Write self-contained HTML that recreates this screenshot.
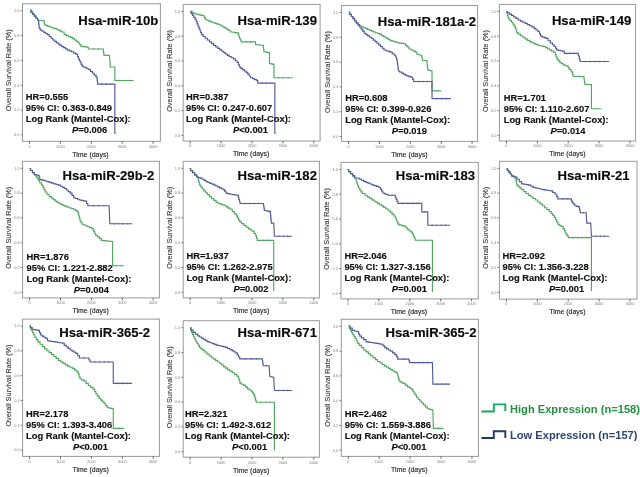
<!DOCTYPE html>
<html><head><meta charset="utf-8"><style>
html,body{margin:0;padding:0;background:#fff;width:640px;height:477px;overflow:hidden}
svg{display:block;filter:blur(0.35px)}
text{font-family:"Liberation Sans",sans-serif}
.tk{font-size:3.9px;fill:#808080}
.yt{font-size:7.3px;fill:#3a3a3a;stroke:#3a3a3a;stroke-width:0.12px}
.xt{font-size:6.95px;fill:#2a2a2a;stroke:#2a2a2a;stroke-width:0.15px}
.ti{font-size:13.1px;font-weight:bold;fill:#0a0a0a;stroke:#0a0a0a;stroke-width:0.15px}
.st{font-size:9.35px;font-weight:bold;fill:#111;stroke:#111;stroke-width:0.15px}
.lg{font-size:11.12px;font-weight:bold}
</style></head><body>
<svg width="640" height="477" viewBox="0 0 640 477">
<rect width="640" height="477" fill="#fff"/>
<rect x="22.5" y="3.8" width="137.9" height="137.5" fill="none" stroke="#999999" stroke-width="1.0"/>
<line x1="20.5" y1="10.8" x2="22.5" y2="10.8" stroke="#666" stroke-width="0.8"/>
<text x="19.5" y="12.1" class="tk" text-anchor="end">1.0</text>
<line x1="20.5" y1="35.6" x2="22.5" y2="35.6" stroke="#666" stroke-width="0.8"/>
<text x="19.5" y="36.9" class="tk" text-anchor="end">0.8</text>
<line x1="20.5" y1="60.4" x2="22.5" y2="60.4" stroke="#666" stroke-width="0.8"/>
<text x="19.5" y="61.7" class="tk" text-anchor="end">0.6</text>
<line x1="20.5" y1="85.2" x2="22.5" y2="85.2" stroke="#666" stroke-width="0.8"/>
<text x="19.5" y="86.5" class="tk" text-anchor="end">0.4</text>
<line x1="20.5" y1="110.0" x2="22.5" y2="110.0" stroke="#666" stroke-width="0.8"/>
<text x="19.5" y="111.3" class="tk" text-anchor="end">0.2</text>
<line x1="20.5" y1="134.8" x2="22.5" y2="134.8" stroke="#666" stroke-width="0.8"/>
<text x="19.5" y="136.1" class="tk" text-anchor="end">0.0</text>
<line x1="29.5" y1="141.3" x2="29.5" y2="143.7" stroke="#555" stroke-width="0.9"/>
<text x="29.5" y="147.6" class="tk" text-anchor="middle">0</text>
<line x1="60.4" y1="141.3" x2="60.4" y2="143.7" stroke="#555" stroke-width="0.9"/>
<text x="60.4" y="147.6" class="tk" text-anchor="middle">1000</text>
<line x1="91.3" y1="141.3" x2="91.3" y2="143.7" stroke="#555" stroke-width="0.9"/>
<text x="91.3" y="147.6" class="tk" text-anchor="middle">2000</text>
<line x1="122.2" y1="141.3" x2="122.2" y2="143.7" stroke="#555" stroke-width="0.9"/>
<text x="122.2" y="147.6" class="tk" text-anchor="middle">3000</text>
<line x1="153.1" y1="141.3" x2="153.1" y2="143.7" stroke="#555" stroke-width="0.9"/>
<text x="153.1" y="147.6" class="tk" text-anchor="middle">4000</text>
<text x="8.7" y="70.3" class="yt" text-anchor="middle" transform="rotate(-90 8.7 70.3)" dy="2.3">Overall Survival Rate (%)</text>
<text x="90.5" y="156.6" class="xt" text-anchor="middle">Time (days)</text>
<polyline points="30.03,10.03 30.88,10.03 30.88,12.08 32.57,12.08 32.57,14.13 34.25,14.13 34.25,16.18 35.94,16.18 35.94,18.23 37.63,18.23 37.63,20.27 38.48,20.27 43.87,20.81 44.09,20.81 44.09,22.79 44.54,22.79 44.54,24.77 44.77,24.77 45.66,24.77 45.66,25.44 47.46,25.44 47.46,26.11 49.26,26.11 49.26,26.79 51.06,26.79 51.06,27.46 51.95,27.46 52.85,27.46 52.85,28.06 54.65,28.06 54.65,28.66 56.45,28.66 56.45,29.26 57.35,29.26 58.24,29.26 58.24,30.16 60.04,30.16 60.04,31.06 61.84,31.06 61.84,31.95 62.74,31.95 64.08,31.95 64.08,34.65 65.43,34.65 66.48,34.65 66.48,35.55 68.58,35.55 68.58,36.45 70.67,36.45 70.67,37.35 71.72,37.35 72.62,37.35 72.62,38.69 74.42,38.69 74.42,40.04 75.31,40.04 76.21,40.04 76.21,41.39 78.01,41.39 78.01,42.74 78.91,42.74 79.58,42.74 79.58,44.53 80.93,44.53 80.93,46.33 81.60,46.33 82.65,46.33 82.65,46.63 84.75,46.63 84.75,46.93 86.84,46.93 86.84,47.23 87.89,47.23 88.34,47.23 88.34,49.03 88.79,49.03 103.17,49.03 103.32,49.03 103.32,51.12 103.62,51.12 103.62,53.22 103.92,53.22 103.92,55.31 104.07,55.31 109.46,55.31 109.53,55.31 109.53,57.26 109.68,57.26 109.68,59.21 109.83,59.21 109.83,61.15 109.98,61.15 109.98,63.10 110.13,63.10 110.13,65.05 110.28,65.05 110.28,66.99 110.35,66.99 114.85,66.99 114.85,80.47 133.72,80.47" fill="none" stroke="#53a862" stroke-width="1.15" stroke-linejoin="miter"/>
<path d="M93.6 48.1v1.8M98.4 48.1v1.8M119.6 79.6v1.8M124.3 79.6v1.8M129.0 79.6v1.8" stroke="#53a862" stroke-width="0.8" opacity="0.9"/>
<polyline points="30.03,10.03 30.88,10.03 30.88,12.08 32.57,12.08 32.57,14.13 34.25,14.13 34.25,16.18 35.94,16.18 35.94,18.23 37.63,18.23 37.63,20.27 38.48,20.27 38.59,20.27 38.59,22.30 38.81,22.30 38.81,24.32 39.04,24.32 39.04,26.34 39.26,26.34 39.26,28.36 39.38,28.36 40.27,28.36 40.27,30.16 41.17,30.16 42.07,30.16 42.07,31.28 43.87,31.28 43.87,32.40 45.66,32.40 45.66,33.53 47.46,33.53 47.46,34.65 48.36,34.65 49.26,34.65 49.26,36.45 51.06,36.45 51.06,38.24 52.85,38.24 52.85,40.04 53.75,40.04 54.65,40.04 54.65,41.39 56.45,41.39 56.45,42.74 58.24,42.74 58.24,44.08 60.04,44.08 60.04,45.43 60.94,45.43 61.84,45.43 61.84,46.55 63.63,46.55 63.63,47.68 65.43,47.68 65.43,48.80 67.23,48.80 67.23,49.92 68.13,49.92 69.25,49.92 69.25,50.82 71.50,50.82 71.50,51.72 72.62,51.72 73.74,51.72 73.74,53.07 75.99,53.07 75.99,54.42 77.11,54.42 77.56,54.42 77.56,56.66 78.46,56.66 78.46,58.91 78.91,58.91 79.36,58.91 79.36,60.71 80.26,60.71 80.26,62.50 81.15,62.50 81.15,64.30 82.05,64.30 82.05,66.10 82.50,66.10 83.40,66.10 83.40,66.99 85.20,66.99 85.20,67.89 86.99,67.89 86.99,68.79 88.79,68.79 88.79,69.69 89.69,69.69 90.59,69.69 90.59,71.49 92.39,71.49 92.39,73.28 93.28,73.28 94.18,73.28 94.18,75.08 95.98,75.08 95.98,76.88 96.88,76.88 96.99,76.88 96.99,78.67 97.21,78.67 97.21,80.47 97.44,80.47 97.44,82.27 97.66,82.27 97.66,84.07 97.78,84.07 114.85,84.07 114.85,134.02" fill="none" stroke="#525d98" stroke-width="1.15" stroke-linejoin="miter"/>
<path d="M102.0 83.2v1.8M106.3 83.2v1.8M110.6 83.2v1.8" stroke="#525d98" stroke-width="0.8" opacity="0.9"/>
<text x="78.3" y="24.7" class="ti">Hsa-miR-10b</text>
<text transform="translate(25.8 99.8) scale(1 1.0)" class="st">HR=0.555</text>
<text transform="translate(25.8 110.8) scale(1 1.0)" class="st">95% CI: 0.363-0.849</text>
<text transform="translate(25.8 121.9) scale(1 1.0)" class="st">Log Rank (Mantel-Cox):</text>
<text transform="translate(72.0 132.9) scale(1 1.0)" class="st"><tspan font-style="italic">P</tspan>=0.006</text>
<rect x="183.2" y="4.4" width="136.9" height="136.6" fill="none" stroke="#999999" stroke-width="1.0"/>
<line x1="181.2" y1="11.4" x2="183.2" y2="11.4" stroke="#666" stroke-width="0.8"/>
<text x="180.2" y="12.7" class="tk" text-anchor="end">1.0</text>
<line x1="181.2" y1="36.2" x2="183.2" y2="36.2" stroke="#666" stroke-width="0.8"/>
<text x="180.2" y="37.5" class="tk" text-anchor="end">0.8</text>
<line x1="181.2" y1="61.0" x2="183.2" y2="61.0" stroke="#666" stroke-width="0.8"/>
<text x="180.2" y="62.3" class="tk" text-anchor="end">0.6</text>
<line x1="181.2" y1="85.8" x2="183.2" y2="85.8" stroke="#666" stroke-width="0.8"/>
<text x="180.2" y="87.1" class="tk" text-anchor="end">0.4</text>
<line x1="181.2" y1="110.6" x2="183.2" y2="110.6" stroke="#666" stroke-width="0.8"/>
<text x="180.2" y="111.9" class="tk" text-anchor="end">0.2</text>
<line x1="181.2" y1="135.4" x2="183.2" y2="135.4" stroke="#666" stroke-width="0.8"/>
<text x="180.2" y="136.7" class="tk" text-anchor="end">0.0</text>
<line x1="190.2" y1="141.0" x2="190.2" y2="143.4" stroke="#555" stroke-width="0.9"/>
<text x="190.2" y="147.3" class="tk" text-anchor="middle">0</text>
<line x1="221.1" y1="141.0" x2="221.1" y2="143.4" stroke="#555" stroke-width="0.9"/>
<text x="221.1" y="147.3" class="tk" text-anchor="middle">1000</text>
<line x1="252.0" y1="141.0" x2="252.0" y2="143.4" stroke="#555" stroke-width="0.9"/>
<text x="252.0" y="147.3" class="tk" text-anchor="middle">2000</text>
<line x1="282.9" y1="141.0" x2="282.9" y2="143.4" stroke="#555" stroke-width="0.9"/>
<text x="282.9" y="147.3" class="tk" text-anchor="middle">3000</text>
<line x1="313.8" y1="141.0" x2="313.8" y2="143.4" stroke="#555" stroke-width="0.9"/>
<text x="313.8" y="147.3" class="tk" text-anchor="middle">4000</text>
<text x="169.4" y="70.9" class="yt" text-anchor="middle" transform="rotate(-90 169.4 70.9)" dy="2.3">Overall Survival Rate (%)</text>
<text x="251.2" y="156.3" class="xt" text-anchor="middle">Time (days)</text>
<polyline points="190.39,11.29 191.29,11.29 191.29,12.19 193.09,12.19 193.09,13.09 194.88,13.09 194.88,13.98 195.78,13.98 196.79,13.98 196.79,14.43 198.81,14.43 198.81,14.88 200.84,14.88 200.84,15.33 202.86,15.33 202.86,15.78 203.87,15.78 204.32,15.78 204.32,17.58 205.22,17.58 205.22,19.38 205.66,19.38 206.71,19.38 206.71,20.27 208.81,20.27 208.81,21.17 210.91,21.17 210.91,22.07 211.95,22.07 212.96,22.07 212.96,22.74 214.99,22.74 214.99,23.42 217.01,23.42 217.01,24.09 219.03,24.09 219.03,24.77 220.04,24.77 221.09,24.77 221.09,25.96 223.19,25.96 223.19,27.16 225.28,27.16 225.28,28.36 226.33,28.36 227.23,28.36 227.23,29.56 229.03,29.56 229.03,30.76 230.82,30.76 230.82,31.95 231.72,31.95 232.77,31.95 232.77,32.25 234.87,32.25 234.87,32.55 236.96,32.55 236.96,32.85 238.01,32.85 238.31,32.85 238.31,34.65 238.91,34.65 238.91,36.45 239.51,36.45 239.51,38.24 239.81,38.24 240.26,38.24 240.26,40.04 241.15,40.04 241.15,41.84 241.60,41.84 255.08,41.84 255.53,41.84 255.53,44.53 255.98,44.53 256.88,44.53 256.88,44.76 258.67,44.76 258.67,44.98 260.47,44.98 260.47,45.21 262.27,45.21 262.27,45.43 263.17,45.43 263.32,45.43 263.32,47.53 263.62,47.53 263.62,49.62 263.92,49.62 263.92,51.72 264.07,51.72 264.96,51.72 264.96,52.02 266.76,52.02 266.76,52.32 268.56,52.32 268.56,52.62 269.46,52.62 269.46,63.40 270.58,63.40 270.58,63.85 272.83,63.85 272.83,64.30 273.95,64.30 273.95,77.78 292.82,77.78" fill="none" stroke="#53a862" stroke-width="1.15" stroke-linejoin="miter"/>
<path d="M246.1 40.9v1.8M250.6 40.9v1.8M278.7 76.9v1.8M283.4 76.9v1.8M288.1 76.9v1.8" stroke="#53a862" stroke-width="0.8" opacity="0.9"/>
<polyline points="190.39,11.29 191.06,11.29 191.06,13.31 192.41,13.31 192.41,15.33 193.76,15.33 193.76,17.35 195.11,17.35 195.11,19.38 195.78,19.38 196.23,19.38 196.23,21.62 197.13,21.62 197.13,23.87 198.03,23.87 198.03,26.11 198.93,26.11 198.93,28.36 199.38,28.36 199.82,28.36 199.82,30.46 200.72,30.46 200.72,32.55 201.62,32.55 201.62,34.65 202.07,34.65 203.12,34.65 203.12,36.45 205.22,36.45 205.22,38.24 207.31,38.24 207.31,40.04 208.36,40.04 209.41,40.04 209.41,41.84 211.50,41.84 211.50,43.63 213.60,43.63 213.60,45.43 214.65,45.43 215.70,45.43 215.70,46.93 217.79,46.93 217.79,48.43 219.89,48.43 219.89,49.92 220.94,49.92 221.84,49.92 221.84,51.27 223.63,51.27 223.63,52.62 225.43,52.62 225.43,53.97 227.23,53.97 227.23,55.31 228.13,55.31 229.17,55.31 229.17,56.51 231.27,56.51 231.27,57.71 233.37,57.71 233.37,58.91 234.42,58.91 235.31,58.91 235.31,60.71 237.11,60.71 237.11,62.50 238.01,62.50 238.46,62.50 238.46,64.75 239.36,64.75 239.36,66.99 239.81,66.99 240.71,66.99 240.71,68.34 242.50,68.34 242.50,69.69 243.40,69.69 244.30,69.69 244.30,71.04 246.10,71.04 246.10,72.39 246.99,72.39 247.74,72.39 247.74,74.18 249.24,74.18 249.24,75.98 250.74,75.98 250.74,77.78 251.49,77.78 252.54,77.78 252.54,78.67 254.63,78.67 254.63,79.57 256.73,79.57 256.73,80.47 257.78,80.47 257.78,83.17 274.85,83.17 274.85,134.02" fill="none" stroke="#525d98" stroke-width="1.15" stroke-linejoin="miter"/>
<path d="M262.0 82.3v1.8M266.3 82.3v1.8M270.6 82.3v1.8" stroke="#525d98" stroke-width="0.8" opacity="0.9"/>
<text x="237.6" y="24.7" class="ti">Hsa-miR-139</text>
<text transform="translate(186.0 100.1) scale(1 1.0)" class="st">HR=0.387</text>
<text transform="translate(186.0 111.1) scale(1 1.0)" class="st">95% CI: 0.247-0.607</text>
<text transform="translate(186.0 122.2) scale(1 1.0)" class="st">Log Rank (Mantel-Cox):</text>
<text transform="translate(232.9 133.2) scale(1 1.0)" class="st"><tspan font-style="italic">P</tspan>&lt;0.001</text>
<rect x="341.5" y="5.5" width="136.1" height="135.9" fill="none" stroke="#999999" stroke-width="1.0"/>
<line x1="339.5" y1="12.5" x2="341.5" y2="12.5" stroke="#666" stroke-width="0.8"/>
<text x="338.5" y="13.8" class="tk" text-anchor="end">1.0</text>
<line x1="339.5" y1="37.3" x2="341.5" y2="37.3" stroke="#666" stroke-width="0.8"/>
<text x="338.5" y="38.6" class="tk" text-anchor="end">0.8</text>
<line x1="339.5" y1="62.1" x2="341.5" y2="62.1" stroke="#666" stroke-width="0.8"/>
<text x="338.5" y="63.4" class="tk" text-anchor="end">0.6</text>
<line x1="339.5" y1="86.9" x2="341.5" y2="86.9" stroke="#666" stroke-width="0.8"/>
<text x="338.5" y="88.2" class="tk" text-anchor="end">0.4</text>
<line x1="339.5" y1="111.7" x2="341.5" y2="111.7" stroke="#666" stroke-width="0.8"/>
<text x="338.5" y="113.0" class="tk" text-anchor="end">0.2</text>
<line x1="339.5" y1="136.5" x2="341.5" y2="136.5" stroke="#666" stroke-width="0.8"/>
<text x="338.5" y="137.8" class="tk" text-anchor="end">0.0</text>
<line x1="348.5" y1="141.4" x2="348.5" y2="143.8" stroke="#555" stroke-width="0.9"/>
<text x="348.5" y="147.7" class="tk" text-anchor="middle">0</text>
<line x1="379.4" y1="141.4" x2="379.4" y2="143.8" stroke="#555" stroke-width="0.9"/>
<text x="379.4" y="147.7" class="tk" text-anchor="middle">1000</text>
<line x1="410.3" y1="141.4" x2="410.3" y2="143.8" stroke="#555" stroke-width="0.9"/>
<text x="410.3" y="147.7" class="tk" text-anchor="middle">2000</text>
<line x1="441.2" y1="141.4" x2="441.2" y2="143.8" stroke="#555" stroke-width="0.9"/>
<text x="441.2" y="147.7" class="tk" text-anchor="middle">3000</text>
<line x1="472.1" y1="141.4" x2="472.1" y2="143.8" stroke="#555" stroke-width="0.9"/>
<text x="472.1" y="147.7" class="tk" text-anchor="middle">4000</text>
<text x="327.7" y="72.0" class="yt" text-anchor="middle" transform="rotate(-90 327.7 72.0)" dy="2.3">Overall Survival Rate (%)</text>
<text x="409.5" y="156.7" class="xt" text-anchor="middle">Time (days)</text>
<polyline points="348.87,12.33 349.69,12.33 349.69,14.43 351.33,14.43 351.33,16.52 352.97,16.52 352.97,18.62 354.61,18.62 354.61,20.71 356.25,20.71 356.25,22.80 357.89,22.80 357.89,24.90 358.71,24.90 359.76,24.90 359.76,25.95 361.85,25.95 361.85,26.99 362.90,26.99 363.84,26.99 363.84,27.83 365.73,27.83 365.73,28.67 367.61,28.67 367.61,29.51 369.50,29.51 369.50,30.35 371.38,30.35 371.38,31.18 372.33,31.18 373.37,31.18 373.37,31.97 375.47,31.97 375.47,32.75 377.56,32.75 377.56,33.54 379.66,33.54 379.66,34.33 380.70,34.33 381.75,34.33 381.75,35.58 383.85,35.58 383.85,36.84 385.94,36.84 385.94,38.10 388.04,38.10 388.04,39.35 390.13,39.35 390.13,40.61 391.18,40.61 392.09,40.61 392.09,41.13 393.93,41.13 393.93,41.66 395.76,41.66 395.76,42.18 397.59,42.18 397.59,42.70 398.51,42.70 399.56,42.70 399.56,43.05 401.65,43.05 401.65,43.40 403.75,43.40 403.75,43.75 404.79,43.75 405.58,43.75 405.58,45.32 407.15,45.32 407.15,46.89 407.94,46.89 408.98,46.89 408.98,48.99 410.03,48.99 411.08,48.99 411.08,50.04 413.17,50.04 413.17,51.08 415.27,51.08 415.27,52.13 416.31,52.13 416.84,52.13 416.84,54.22 417.36,54.22 418.41,54.22 418.41,54.75 420.50,54.75 420.50,55.27 421.55,55.27 421.73,55.27 421.73,57.02 422.07,57.02 422.07,58.76 422.42,58.76 422.42,60.51 422.60,60.51 426.79,60.51 426.89,60.51 426.89,62.39 427.10,62.39 427.10,64.28 427.31,64.28 427.31,66.16 427.52,66.16 427.52,68.05 427.73,68.05 427.73,69.94 427.83,69.94 428.88,69.94 428.88,70.46 430.98,70.46 430.98,70.98 432.02,70.98 432.02,90.88 441.45,90.88" fill="none" stroke="#53a862" stroke-width="1.15" stroke-linejoin="miter"/>
<path d="M436.7 90.0v1.8" stroke="#53a862" stroke-width="0.8" opacity="0.9"/>
<polyline points="348.87,12.33 349.69,12.33 349.69,14.43 351.33,14.43 351.33,16.52 352.97,16.52 352.97,18.62 354.61,18.62 354.61,20.71 356.25,20.71 356.25,22.80 357.89,22.80 357.89,24.90 358.71,24.90 359.50,24.90 359.50,26.99 361.07,26.99 361.07,29.09 361.85,29.09 362.64,29.09 362.64,31.18 364.21,31.18 364.21,33.28 364.99,33.28 365.91,33.28 365.91,34.59 367.74,34.59 367.74,35.90 369.58,35.90 369.58,37.21 371.41,37.21 371.41,38.51 372.33,38.51 373.24,38.51 373.24,40.09 375.07,40.09 375.07,41.66 376.91,41.66 376.91,43.23 378.74,43.23 378.74,44.80 379.66,44.80 380.53,44.80 380.53,46.54 382.28,46.54 382.28,48.29 384.02,48.29 384.02,50.04 384.89,50.04 385.94,50.04 385.94,50.73 388.04,50.73 388.04,51.43 390.13,51.43 390.13,52.13 391.18,52.13 392.22,52.13 392.22,53.70 394.32,53.70 394.32,55.27 395.37,55.27 395.79,55.27 395.79,57.37 396.62,57.37 396.62,59.46 397.04,59.46 397.16,59.46 397.16,61.38 397.41,61.38 397.41,63.30 397.65,63.30 397.65,65.22 397.90,65.22 397.90,67.14 398.14,67.14 398.14,69.06 398.39,69.06 398.39,70.98 398.51,70.98 399.56,70.98 399.56,72.03 401.65,72.03 401.65,73.08 402.70,73.08 403.48,73.08 403.48,74.12 405.05,74.12 405.05,75.17 405.84,75.17 406.89,75.17 406.89,75.87 408.98,75.87 408.98,76.57 411.08,76.57 411.08,77.27 412.12,77.27 412.65,77.27 412.65,79.36 413.70,79.36 413.70,81.46 414.22,81.46 432.02,81.46 432.02,98.63 450.88,98.63" fill="none" stroke="#525d98" stroke-width="1.15" stroke-linejoin="miter"/>
<path d="M418.7 80.6v1.8M423.1 80.6v1.8M427.6 80.6v1.8M436.7 97.7v1.8M441.4 97.7v1.8M446.2 97.7v1.8" stroke="#525d98" stroke-width="0.8" opacity="0.9"/>
<text x="377.8" y="25.8" class="ti">Hsa-miR-181a-2</text>
<text transform="translate(345.2 100.6) scale(1 1.0)" class="st">HR=0.608</text>
<text transform="translate(345.2 111.6) scale(1 1.0)" class="st">95% CI: 0.399-0.926</text>
<text transform="translate(345.2 122.7) scale(1 1.0)" class="st">Log Rank (Mantel-Cox):</text>
<text transform="translate(391.8 133.8) scale(1 1.0)" class="st"><tspan font-style="italic">P</tspan>=0.019</text>
<rect x="499.4" y="4.4" width="136.2" height="136.6" fill="none" stroke="#999999" stroke-width="1.0"/>
<line x1="497.4" y1="11.4" x2="499.4" y2="11.4" stroke="#666" stroke-width="0.8"/>
<text x="496.4" y="12.7" class="tk" text-anchor="end">1.0</text>
<line x1="497.4" y1="36.2" x2="499.4" y2="36.2" stroke="#666" stroke-width="0.8"/>
<text x="496.4" y="37.5" class="tk" text-anchor="end">0.8</text>
<line x1="497.4" y1="61.0" x2="499.4" y2="61.0" stroke="#666" stroke-width="0.8"/>
<text x="496.4" y="62.3" class="tk" text-anchor="end">0.6</text>
<line x1="497.4" y1="85.8" x2="499.4" y2="85.8" stroke="#666" stroke-width="0.8"/>
<text x="496.4" y="87.1" class="tk" text-anchor="end">0.4</text>
<line x1="497.4" y1="110.6" x2="499.4" y2="110.6" stroke="#666" stroke-width="0.8"/>
<text x="496.4" y="111.9" class="tk" text-anchor="end">0.2</text>
<line x1="497.4" y1="135.4" x2="499.4" y2="135.4" stroke="#666" stroke-width="0.8"/>
<text x="496.4" y="136.7" class="tk" text-anchor="end">0.0</text>
<line x1="506.4" y1="141.0" x2="506.4" y2="143.4" stroke="#555" stroke-width="0.9"/>
<text x="506.4" y="147.3" class="tk" text-anchor="middle">0</text>
<line x1="537.3" y1="141.0" x2="537.3" y2="143.4" stroke="#555" stroke-width="0.9"/>
<text x="537.3" y="147.3" class="tk" text-anchor="middle">1000</text>
<line x1="568.2" y1="141.0" x2="568.2" y2="143.4" stroke="#555" stroke-width="0.9"/>
<text x="568.2" y="147.3" class="tk" text-anchor="middle">2000</text>
<line x1="599.1" y1="141.0" x2="599.1" y2="143.4" stroke="#555" stroke-width="0.9"/>
<text x="599.1" y="147.3" class="tk" text-anchor="middle">3000</text>
<line x1="630.0" y1="141.0" x2="630.0" y2="143.4" stroke="#555" stroke-width="0.9"/>
<text x="630.0" y="147.3" class="tk" text-anchor="middle">4000</text>
<text x="485.6" y="70.9" class="yt" text-anchor="middle" transform="rotate(-90 485.6 70.9)" dy="2.3">Overall Survival Rate (%)</text>
<text x="567.4" y="156.3" class="xt" text-anchor="middle">Time (days)</text>
<polyline points="506.61,11.45 506.90,11.45 506.90,13.30 507.47,13.30 507.47,15.14 508.05,15.14 508.05,16.98 508.63,16.98 508.63,18.83 508.91,18.83 509.78,18.83 509.78,20.56 511.51,20.56 511.51,22.29 512.37,22.29 512.95,22.29 512.95,24.21 514.10,24.21 514.10,26.13 515.25,26.13 515.25,28.05 515.83,28.05 516.12,28.05 516.12,30.35 516.69,30.35 516.69,32.66 516.98,32.66 518.13,32.66 518.13,34.19 520.44,34.19 520.44,35.73 522.74,35.73 522.74,37.27 523.89,37.27 525.05,37.27 525.05,38.80 527.35,38.80 527.35,40.34 529.66,40.34 529.66,41.87 530.81,41.87 531.82,41.87 531.82,42.74 533.83,42.74 533.83,43.60 535.85,43.60 535.85,44.47 537.87,44.47 537.87,45.33 538.87,45.33 539.84,45.33 539.84,45.72 541.76,45.72 541.76,46.10 543.68,46.10 543.68,46.48 544.64,46.48 545.60,46.48 545.60,47.64 547.52,47.64 547.52,48.79 549.44,48.79 549.44,49.94 550.40,49.94 551.55,49.94 551.55,51.09 553.86,51.09 553.86,52.25 555.01,52.25 555.39,52.25 555.39,54.55 556.16,54.55 556.16,56.86 556.93,56.86 556.93,59.16 557.31,59.16 558.18,59.16 558.18,60.89 559.91,60.89 559.91,62.62 560.77,62.62 561.63,62.62 561.63,63.77 563.36,63.77 563.36,64.92 564.23,64.92 565.09,64.92 565.09,65.50 566.82,65.50 566.82,66.07 567.68,66.07 568.26,66.07 568.26,67.80 569.41,67.80 569.41,69.53 569.99,69.53 571.14,69.53 571.14,71.84 572.29,71.84 572.58,71.84 572.58,74.14 573.16,74.14 573.16,76.45 573.45,76.45 583.82,76.45 583.96,76.45 583.96,78.46 584.25,78.46 584.25,80.48 584.54,80.48 584.54,82.49 584.82,82.49 584.82,84.51 584.97,84.51 591.42,84.51 591.42,108.71 601.10,108.71" fill="none" stroke="#53a862" stroke-width="1.15" stroke-linejoin="miter"/>
<path d="M578.6 75.5v1.8M588.2 83.6v1.8M596.3 107.8v1.8" stroke="#53a862" stroke-width="0.8" opacity="0.9"/>
<polyline points="506.61,11.45 507.57,11.45 507.57,12.76 509.49,12.76 509.49,14.07 511.41,14.07 511.41,15.37 512.37,15.37 513.52,15.37 513.52,16.91 515.83,16.91 515.83,18.44 518.13,18.44 518.13,19.98 519.29,19.98 520.44,19.98 520.44,21.13 522.74,21.13 522.74,22.29 525.05,22.29 525.05,23.44 526.20,23.44 527.35,23.44 527.35,24.59 529.66,24.59 529.66,25.74 531.96,25.74 531.96,26.89 533.11,26.89 534.07,26.89 534.07,28.43 535.99,28.43 535.99,29.97 537.91,29.97 537.91,31.50 538.87,31.50 539.45,31.50 539.45,33.81 540.60,33.81 540.60,36.11 541.18,36.11 542.14,36.11 542.14,36.88 544.06,36.88 544.06,37.65 545.98,37.65 545.98,38.42 546.94,38.42 548.09,38.42 548.09,40.72 550.40,40.72 550.40,43.03 551.55,43.03 552.41,43.03 552.41,44.76 554.14,44.76 554.14,46.48 555.01,46.48 555.58,46.48 555.58,48.21 556.74,48.21 556.74,49.94 557.31,49.94 558.27,49.94 558.27,50.33 560.19,50.33 560.19,50.71 562.11,50.71 562.11,51.09 563.07,51.09 564.23,51.09 564.23,53.40 565.38,53.40 578.05,53.40 578.34,53.40 578.34,55.13 578.92,55.13 578.92,56.86 579.21,56.86 579.49,56.86 579.49,59.16 580.07,59.16 580.07,61.46 580.36,61.46 609.17,61.46" fill="none" stroke="#525d98" stroke-width="1.15" stroke-linejoin="miter"/>
<path d="M569.6 52.5v1.8M573.8 52.5v1.8M585.2 60.6v1.8M590.0 60.6v1.8M594.8 60.6v1.8M599.6 60.6v1.8M604.4 60.6v1.8" stroke="#525d98" stroke-width="0.8" opacity="0.9"/>
<text x="551.9" y="25.4" class="ti">Hsa-miR-149</text>
<text transform="translate(503.7 100.6) scale(1 1.0)" class="st">HR=1.701</text>
<text transform="translate(503.7 111.6) scale(1 1.0)" class="st">95% CI: 1.110-2.607</text>
<text transform="translate(503.7 122.7) scale(1 1.0)" class="st">Log Rank (Mantel-Cox):</text>
<text transform="translate(550.4 133.8) scale(1 1.0)" class="st"><tspan font-style="italic">P</tspan>=0.014</text>
<rect x="22.6" y="161.3" width="136.8" height="136.6" fill="none" stroke="#999999" stroke-width="1.0"/>
<line x1="20.6" y1="168.3" x2="22.6" y2="168.3" stroke="#666" stroke-width="0.8"/>
<text x="19.6" y="169.6" class="tk" text-anchor="end">1.0</text>
<line x1="20.6" y1="193.1" x2="22.6" y2="193.1" stroke="#666" stroke-width="0.8"/>
<text x="19.6" y="194.4" class="tk" text-anchor="end">0.8</text>
<line x1="20.6" y1="217.9" x2="22.6" y2="217.9" stroke="#666" stroke-width="0.8"/>
<text x="19.6" y="219.2" class="tk" text-anchor="end">0.6</text>
<line x1="20.6" y1="242.7" x2="22.6" y2="242.7" stroke="#666" stroke-width="0.8"/>
<text x="19.6" y="244.0" class="tk" text-anchor="end">0.4</text>
<line x1="20.6" y1="267.5" x2="22.6" y2="267.5" stroke="#666" stroke-width="0.8"/>
<text x="19.6" y="268.8" class="tk" text-anchor="end">0.2</text>
<line x1="20.6" y1="292.3" x2="22.6" y2="292.3" stroke="#666" stroke-width="0.8"/>
<text x="19.6" y="293.6" class="tk" text-anchor="end">0.0</text>
<line x1="29.6" y1="297.9" x2="29.6" y2="300.3" stroke="#555" stroke-width="0.9"/>
<text x="29.6" y="304.2" class="tk" text-anchor="middle">0</text>
<line x1="60.5" y1="297.9" x2="60.5" y2="300.3" stroke="#555" stroke-width="0.9"/>
<text x="60.5" y="304.2" class="tk" text-anchor="middle">1000</text>
<line x1="91.4" y1="297.9" x2="91.4" y2="300.3" stroke="#555" stroke-width="0.9"/>
<text x="91.4" y="304.2" class="tk" text-anchor="middle">2000</text>
<line x1="122.3" y1="297.9" x2="122.3" y2="300.3" stroke="#555" stroke-width="0.9"/>
<text x="122.3" y="304.2" class="tk" text-anchor="middle">3000</text>
<line x1="153.2" y1="297.9" x2="153.2" y2="300.3" stroke="#555" stroke-width="0.9"/>
<text x="153.2" y="304.2" class="tk" text-anchor="middle">4000</text>
<text x="8.8" y="227.8" class="yt" text-anchor="middle" transform="rotate(-90 8.8 227.8)" dy="2.3">Overall Survival Rate (%)</text>
<text x="90.6" y="313.2" class="xt" text-anchor="middle">Time (days)</text>
<polyline points="29.61,168.45 30.57,168.45 30.57,170.53 32.49,170.53 32.49,172.60 34.41,172.60 34.41,174.68 35.37,174.68 35.95,174.68 35.95,176.60 37.10,176.60 37.10,178.52 38.25,178.52 38.25,180.44 38.83,180.44 39.69,180.44 39.69,182.74 41.42,182.74 41.42,185.05 42.29,185.05 42.86,185.05 42.86,187.35 44.01,187.35 44.01,189.66 45.17,189.66 45.17,191.96 45.74,191.96 46.89,191.96 46.89,194.27 49.20,194.27 49.20,196.57 50.35,196.57 51.31,196.57 51.31,198.11 53.23,198.11 53.23,199.64 55.15,199.64 55.15,201.18 56.11,201.18 57.07,201.18 57.07,202.33 58.99,202.33 58.99,203.48 60.91,203.48 60.91,204.64 61.87,204.64 62.84,204.64 62.84,205.40 64.76,205.40 64.76,206.17 66.68,206.17 66.68,206.94 67.64,206.94 68.79,206.94 68.79,207.71 71.09,207.71 71.09,208.48 73.40,208.48 73.40,209.25 74.55,209.25 75.41,209.25 75.41,210.40 77.14,210.40 77.14,211.55 78.01,211.55 78.24,211.55 78.24,213.39 78.70,213.39 78.70,215.24 79.16,215.24 79.16,217.08 79.62,217.08 79.62,218.93 80.08,218.93 80.08,220.77 80.31,220.77 80.89,220.77 80.89,222.50 82.04,222.50 82.04,224.23 82.62,224.23 83.58,224.23 83.58,224.99 85.50,224.99 85.50,225.76 87.42,225.76 87.42,226.53 88.38,226.53 89.53,226.53 89.53,227.68 91.84,227.68 91.84,228.84 92.99,228.84 93.56,228.84 93.56,231.14 94.14,231.14 94.72,231.14 94.72,233.45 95.87,233.45 95.87,235.75 96.45,235.75 97.60,235.75 97.60,236.90 98.75,236.90 99.61,236.90 99.61,238.63 101.34,238.63 101.34,240.36 102.21,240.36 103.24,240.36 103.24,240.59 105.32,240.59 105.32,240.82 107.39,240.82 107.39,241.05 109.47,241.05 109.47,241.28 111.54,241.28 111.54,241.51 112.58,241.51 112.58,265.71 124.10,265.71" fill="none" stroke="#53a862" stroke-width="1.15" stroke-linejoin="miter"/>
<path d="M116.4 264.8v1.8M120.3 264.8v1.8" stroke="#53a862" stroke-width="0.8" opacity="0.9"/>
<polyline points="29.61,168.45 30.57,168.45 30.57,170.53 32.49,170.53 32.49,172.60 34.41,172.60 34.41,174.68 35.37,174.68 38.83,175.37 39.12,175.37 39.12,177.33 39.69,177.33 39.69,179.29 39.98,179.29 40.99,179.29 40.99,179.86 43.01,179.86 43.01,180.44 45.02,180.44 45.02,181.01 47.04,181.01 47.04,181.59 48.05,181.59 49.20,181.59 49.20,182.36 51.50,182.36 51.50,183.13 53.81,183.13 53.81,183.89 54.96,183.89 56.11,183.89 56.11,184.47 58.42,184.47 58.42,185.05 59.57,185.05 60.53,185.05 60.53,186.20 62.45,186.20 62.45,187.35 64.37,187.35 64.37,188.50 65.33,188.50 66.29,188.50 66.29,190.04 68.21,190.04 68.21,191.58 70.13,191.58 70.13,193.11 71.09,193.11 71.96,193.11 71.96,195.42 73.69,195.42 73.69,197.72 74.55,197.72 75.51,197.72 75.51,198.49 77.43,198.49 77.43,199.26 79.35,199.26 79.35,200.03 80.31,200.03 81.27,200.03 81.27,200.41 83.19,200.41 83.19,200.80 85.11,200.80 85.11,201.18 86.07,201.18 86.65,201.18 86.65,203.48 87.80,203.48 87.80,205.79 88.38,205.79 109.12,205.79 109.81,223.77 132.17,223.77" fill="none" stroke="#525d98" stroke-width="1.15" stroke-linejoin="miter"/>
<path d="M93.6 204.9v1.8M98.7 204.9v1.8M103.9 204.9v1.8M114.3 222.9v1.8M118.8 222.9v1.8M123.2 222.9v1.8M127.7 222.9v1.8" stroke="#525d98" stroke-width="0.8" opacity="0.9"/>
<text x="62.6" y="179.6" class="ti">Hsa-miR-29b-2</text>
<text transform="translate(26.5 259.8) scale(1 1.0)" class="st">HR=1.876</text>
<text transform="translate(26.5 270.9) scale(1 1.0)" class="st">95% CI: 1.221-2.882</text>
<text transform="translate(26.5 281.9) scale(1 1.0)" class="st">Log Rank (Mantel-Cox):</text>
<text transform="translate(73.8 292.9) scale(1 1.0)" class="st"><tspan font-style="italic">P</tspan>=0.004</text>
<rect x="183.2" y="161.3" width="136.2" height="136.6" fill="none" stroke="#999999" stroke-width="1.0"/>
<line x1="181.2" y1="168.3" x2="183.2" y2="168.3" stroke="#666" stroke-width="0.8"/>
<text x="180.2" y="169.6" class="tk" text-anchor="end">1.0</text>
<line x1="181.2" y1="193.1" x2="183.2" y2="193.1" stroke="#666" stroke-width="0.8"/>
<text x="180.2" y="194.4" class="tk" text-anchor="end">0.8</text>
<line x1="181.2" y1="217.9" x2="183.2" y2="217.9" stroke="#666" stroke-width="0.8"/>
<text x="180.2" y="219.2" class="tk" text-anchor="end">0.6</text>
<line x1="181.2" y1="242.7" x2="183.2" y2="242.7" stroke="#666" stroke-width="0.8"/>
<text x="180.2" y="244.0" class="tk" text-anchor="end">0.4</text>
<line x1="181.2" y1="267.5" x2="183.2" y2="267.5" stroke="#666" stroke-width="0.8"/>
<text x="180.2" y="268.8" class="tk" text-anchor="end">0.2</text>
<line x1="181.2" y1="292.3" x2="183.2" y2="292.3" stroke="#666" stroke-width="0.8"/>
<text x="180.2" y="293.6" class="tk" text-anchor="end">0.0</text>
<line x1="190.2" y1="297.9" x2="190.2" y2="300.3" stroke="#555" stroke-width="0.9"/>
<text x="190.2" y="304.2" class="tk" text-anchor="middle">0</text>
<line x1="221.1" y1="297.9" x2="221.1" y2="300.3" stroke="#555" stroke-width="0.9"/>
<text x="221.1" y="304.2" class="tk" text-anchor="middle">1000</text>
<line x1="252.0" y1="297.9" x2="252.0" y2="300.3" stroke="#555" stroke-width="0.9"/>
<text x="252.0" y="304.2" class="tk" text-anchor="middle">2000</text>
<line x1="282.9" y1="297.9" x2="282.9" y2="300.3" stroke="#555" stroke-width="0.9"/>
<text x="282.9" y="304.2" class="tk" text-anchor="middle">3000</text>
<line x1="313.8" y1="297.9" x2="313.8" y2="300.3" stroke="#555" stroke-width="0.9"/>
<text x="313.8" y="304.2" class="tk" text-anchor="middle">4000</text>
<text x="169.4" y="227.8" class="yt" text-anchor="middle" transform="rotate(-90 169.4 227.8)" dy="2.3">Overall Survival Rate (%)</text>
<text x="251.2" y="313.2" class="xt" text-anchor="middle">Time (days)</text>
<polyline points="189.61,168.45 190.62,168.45 190.62,170.58 192.63,170.58 192.63,172.72 194.65,172.72 194.65,174.85 196.67,174.85 196.67,176.98 197.68,176.98 197.96,176.98 197.96,179.00 198.54,179.00 198.54,181.01 199.12,181.01 199.12,183.03 199.69,183.03 199.69,185.05 199.98,185.05 200.75,185.05 200.75,186.97 202.29,186.97 202.29,188.89 203.82,188.89 203.82,190.81 204.59,190.81 205.55,190.81 205.55,192.73 207.47,192.73 207.47,194.65 209.39,194.65 209.39,196.57 210.35,196.57 211.50,196.57 211.50,198.49 213.81,198.49 213.81,200.41 216.11,200.41 216.11,202.33 217.27,202.33 218.27,202.33 218.27,203.20 220.29,203.20 220.29,204.06 222.31,204.06 222.31,204.92 224.32,204.92 224.32,205.79 225.33,205.79 226.29,205.79 226.29,206.94 228.21,206.94 228.21,208.09 230.13,208.09 230.13,209.25 231.09,209.25 232.25,209.25 232.25,211.55 234.55,211.55 234.55,213.86 235.70,213.86 236.28,213.86 236.28,215.87 237.43,215.87 237.43,217.89 238.58,217.89 238.58,219.91 239.74,219.91 239.74,221.92 240.31,221.92 241.46,221.92 241.46,223.65 243.77,223.65 243.77,225.38 244.92,225.38 246.07,225.38 246.07,227.11 248.38,227.11 248.38,228.84 249.53,228.84 250.40,228.84 250.40,229.99 252.12,229.99 252.12,231.14 252.99,231.14 254.14,231.14 254.14,233.45 255.29,233.45 255.68,233.45 255.68,235.75 256.45,235.75 256.45,238.05 257.21,238.05 257.21,240.36 257.60,240.36 273.73,240.36 273.73,291.06" fill="none" stroke="#53a862" stroke-width="1.15" stroke-linejoin="miter"/>
<path d="M263.0 239.5v1.8M268.4 239.5v1.8" stroke="#53a862" stroke-width="0.8" opacity="0.9"/>
<polyline points="189.61,168.45 190.62,168.45 190.62,170.58 192.63,170.58 192.63,172.72 194.65,172.72 194.65,174.85 196.67,174.85 196.67,176.98 197.68,176.98 198.54,176.98 198.54,177.56 200.27,177.56 200.27,178.13 201.13,178.13 202.09,178.13 202.09,179.29 204.01,179.29 204.01,180.44 205.93,180.44 205.93,181.59 206.89,181.59 207.90,181.59 207.90,182.45 209.92,182.45 209.92,183.32 211.94,183.32 211.94,184.18 213.95,184.18 213.95,185.05 214.96,185.05 215.88,185.05 215.88,185.97 217.73,185.97 217.73,186.89 219.57,186.89 219.57,187.81 221.41,187.81 221.41,188.73 223.26,188.73 223.26,189.66 224.18,189.66 224.76,189.66 224.76,191.38 225.91,191.38 225.91,193.11 226.48,193.11 227.64,193.11 227.64,193.69 229.94,193.69 229.94,194.27 231.09,194.27 232.25,194.27 232.25,194.65 234.55,194.65 234.55,195.03 236.86,195.03 236.86,195.42 238.01,195.42 238.30,195.42 238.30,197.43 238.87,197.43 238.87,199.45 239.45,199.45 239.45,201.47 240.02,201.47 240.02,203.48 240.31,203.48 263.36,203.48 263.55,203.48 263.55,205.79 263.94,205.79 263.94,208.09 264.32,208.09 264.32,210.40 264.51,210.40 265.47,210.40 265.47,210.78 267.39,210.78 267.39,211.17 269.31,211.17 269.31,211.55 270.27,211.55 270.37,211.55 270.37,213.47 270.56,213.47 270.56,215.39 270.75,215.39 270.75,217.31 270.95,217.31 270.95,219.23 271.14,219.23 271.14,221.15 271.33,221.15 271.33,223.07 271.43,223.07 273.73,223.07 274.42,236.21 292.17,236.21" fill="none" stroke="#525d98" stroke-width="1.15" stroke-linejoin="miter"/>
<path d="M244.9 202.6v1.8M249.5 202.6v1.8M254.1 202.6v1.8M258.7 202.6v1.8M278.9 235.3v1.8M283.3 235.3v1.8M287.7 235.3v1.8" stroke="#525d98" stroke-width="0.8" opacity="0.9"/>
<text x="237.6" y="179.6" class="ti">Hsa-miR-182</text>
<text transform="translate(186.4 259.3) scale(1 1.0)" class="st">HR=1.937</text>
<text transform="translate(186.4 270.4) scale(1 1.0)" class="st">95% CI: 1.262-2.975</text>
<text transform="translate(186.4 281.4) scale(1 1.0)" class="st">Log Rank (Mantel-Cox):</text>
<text transform="translate(233.4 292.4) scale(1 1.0)" class="st"><tspan font-style="italic">P</tspan>=0.002</text>
<rect x="341.0" y="162.4" width="137.3" height="136.5" fill="none" stroke="#999999" stroke-width="1.0"/>
<line x1="339.0" y1="169.4" x2="341.0" y2="169.4" stroke="#666" stroke-width="0.8"/>
<text x="338.0" y="170.7" class="tk" text-anchor="end">1.0</text>
<line x1="339.0" y1="194.2" x2="341.0" y2="194.2" stroke="#666" stroke-width="0.8"/>
<text x="338.0" y="195.5" class="tk" text-anchor="end">0.8</text>
<line x1="339.0" y1="219.0" x2="341.0" y2="219.0" stroke="#666" stroke-width="0.8"/>
<text x="338.0" y="220.3" class="tk" text-anchor="end">0.6</text>
<line x1="339.0" y1="243.8" x2="341.0" y2="243.8" stroke="#666" stroke-width="0.8"/>
<text x="338.0" y="245.1" class="tk" text-anchor="end">0.4</text>
<line x1="339.0" y1="268.6" x2="341.0" y2="268.6" stroke="#666" stroke-width="0.8"/>
<text x="338.0" y="269.9" class="tk" text-anchor="end">0.2</text>
<line x1="339.0" y1="293.4" x2="341.0" y2="293.4" stroke="#666" stroke-width="0.8"/>
<text x="338.0" y="294.7" class="tk" text-anchor="end">0.0</text>
<line x1="348.0" y1="298.9" x2="348.0" y2="301.3" stroke="#555" stroke-width="0.9"/>
<text x="348.0" y="305.2" class="tk" text-anchor="middle">0</text>
<line x1="378.9" y1="298.9" x2="378.9" y2="301.3" stroke="#555" stroke-width="0.9"/>
<text x="378.9" y="305.2" class="tk" text-anchor="middle">1000</text>
<line x1="409.8" y1="298.9" x2="409.8" y2="301.3" stroke="#555" stroke-width="0.9"/>
<text x="409.8" y="305.2" class="tk" text-anchor="middle">2000</text>
<line x1="440.7" y1="298.9" x2="440.7" y2="301.3" stroke="#555" stroke-width="0.9"/>
<text x="440.7" y="305.2" class="tk" text-anchor="middle">3000</text>
<line x1="471.6" y1="298.9" x2="471.6" y2="301.3" stroke="#555" stroke-width="0.9"/>
<text x="471.6" y="305.2" class="tk" text-anchor="middle">4000</text>
<text x="327.2" y="228.9" class="yt" text-anchor="middle" transform="rotate(-90 327.2 228.9)" dy="2.3">Overall Survival Rate (%)</text>
<text x="409.0" y="314.2" class="xt" text-anchor="middle">Time (days)</text>
<polyline points="347.61,169.45 348.62,169.45 348.62,171.58 350.63,171.58 350.63,173.72 352.65,173.72 352.65,175.85 354.67,175.85 354.67,177.98 355.68,177.98 355.96,177.98 355.96,180.00 356.54,180.00 356.54,182.01 357.12,182.01 357.12,184.03 357.69,184.03 357.69,186.05 357.98,186.05 358.56,186.05 358.56,187.97 359.71,187.97 359.71,189.89 360.86,189.89 360.86,191.81 361.44,191.81 362.59,191.81 362.59,193.54 364.89,193.54 364.89,195.27 366.05,195.27 367.20,195.27 367.20,196.80 369.50,196.80 369.50,198.34 371.81,198.34 371.81,199.87 372.96,199.87 373.88,199.87 373.88,201.03 375.73,201.03 375.73,202.18 377.57,202.18 377.57,203.33 379.41,203.33 379.41,204.48 381.26,204.48 381.26,205.64 382.18,205.64 383.33,205.64 383.33,207.17 385.64,207.17 385.64,208.71 387.94,208.71 387.94,210.25 389.09,210.25 390.05,210.25 390.05,212.17 391.97,212.17 391.97,214.09 393.89,214.09 393.89,216.01 394.86,216.01 395.29,216.01 395.29,218.02 396.15,218.02 396.15,220.04 397.02,220.04 397.02,222.06 397.88,222.06 397.88,224.07 398.31,224.07 399.46,224.07 399.46,224.84 401.77,224.84 401.77,225.61 404.07,225.61 404.07,226.38 405.23,226.38 406.09,226.38 406.09,228.11 407.82,228.11 407.82,229.84 408.68,229.84 409.55,229.84 409.55,230.99 411.28,230.99 411.28,232.14 412.14,232.14 412.57,232.14 412.57,234.16 413.44,234.16 413.44,236.17 414.30,236.17 414.30,238.19 415.17,238.19 415.17,240.21 415.60,240.21 432.42,240.21 432.42,292.06" fill="none" stroke="#53a862" stroke-width="1.15" stroke-linejoin="miter"/>
<path d="M419.8 239.3v1.8M424.0 239.3v1.8M428.2 239.3v1.8" stroke="#53a862" stroke-width="0.8" opacity="0.9"/>
<polyline points="347.61,169.45 348.62,169.45 348.62,171.58 350.63,171.58 350.63,173.72 352.65,173.72 352.65,175.85 354.67,175.85 354.67,177.98 355.68,177.98 357.98,177.98 359.13,177.98 359.13,179.13 361.44,179.13 361.44,180.29 363.74,180.29 363.74,181.44 364.89,181.44 365.90,181.44 365.90,182.30 367.92,182.30 367.92,183.17 369.94,183.17 369.94,184.03 371.95,184.03 371.95,184.89 372.96,184.89 374.11,184.89 374.11,185.66 376.42,185.66 376.42,186.43 378.72,186.43 378.72,187.20 379.87,187.20 380.45,187.20 380.45,189.12 381.60,189.12 381.60,191.04 382.76,191.04 382.76,192.96 383.33,192.96 384.29,192.96 384.29,193.73 386.21,193.73 386.21,194.50 388.13,194.50 388.13,195.27 389.09,195.27 394.86,195.27 395.29,195.27 395.29,197.28 396.15,197.28 396.15,199.30 397.02,199.30 397.02,201.32 397.88,201.32 397.88,203.33 398.31,203.33 421.82,203.33 421.82,211.86 427.81,211.86 427.81,225.23 450.17,225.23" fill="none" stroke="#525d98" stroke-width="1.15" stroke-linejoin="miter"/>
<path d="M392.0 194.4v1.8M403.0 202.4v1.8M407.7 202.4v1.8M412.4 202.4v1.8M417.1 202.4v1.8M424.8 211.0v1.8M432.3 224.3v1.8M436.8 224.3v1.8M441.2 224.3v1.8M445.7 224.3v1.8" stroke="#525d98" stroke-width="0.8" opacity="0.9"/>
<text x="395.8" y="179.6" class="ti">Hsa-miR-183</text>
<text transform="translate(344.4 259.3) scale(1 1.0)" class="st">HR=2.046</text>
<text transform="translate(344.4 270.4) scale(1 1.0)" class="st">95% CI: 1.327-3.156</text>
<text transform="translate(344.4 281.4) scale(1 1.0)" class="st">Log Rank (Mantel-Cox):</text>
<text transform="translate(391.8 292.4) scale(1 1.0)" class="st"><tspan font-style="italic">P</tspan>=0.001</text>
<rect x="499.4" y="161.3" width="137.6" height="137.8" fill="none" stroke="#999999" stroke-width="1.0"/>
<line x1="497.4" y1="168.3" x2="499.4" y2="168.3" stroke="#666" stroke-width="0.8"/>
<text x="496.4" y="169.6" class="tk" text-anchor="end">1.0</text>
<line x1="497.4" y1="193.1" x2="499.4" y2="193.1" stroke="#666" stroke-width="0.8"/>
<text x="496.4" y="194.4" class="tk" text-anchor="end">0.8</text>
<line x1="497.4" y1="217.9" x2="499.4" y2="217.9" stroke="#666" stroke-width="0.8"/>
<text x="496.4" y="219.2" class="tk" text-anchor="end">0.6</text>
<line x1="497.4" y1="242.7" x2="499.4" y2="242.7" stroke="#666" stroke-width="0.8"/>
<text x="496.4" y="244.0" class="tk" text-anchor="end">0.4</text>
<line x1="497.4" y1="267.5" x2="499.4" y2="267.5" stroke="#666" stroke-width="0.8"/>
<text x="496.4" y="268.8" class="tk" text-anchor="end">0.2</text>
<line x1="497.4" y1="292.3" x2="499.4" y2="292.3" stroke="#666" stroke-width="0.8"/>
<text x="496.4" y="293.6" class="tk" text-anchor="end">0.0</text>
<line x1="506.4" y1="299.1" x2="506.4" y2="301.5" stroke="#555" stroke-width="0.9"/>
<text x="506.4" y="305.4" class="tk" text-anchor="middle">0</text>
<line x1="537.3" y1="299.1" x2="537.3" y2="301.5" stroke="#555" stroke-width="0.9"/>
<text x="537.3" y="305.4" class="tk" text-anchor="middle">1000</text>
<line x1="568.2" y1="299.1" x2="568.2" y2="301.5" stroke="#555" stroke-width="0.9"/>
<text x="568.2" y="305.4" class="tk" text-anchor="middle">2000</text>
<line x1="599.1" y1="299.1" x2="599.1" y2="301.5" stroke="#555" stroke-width="0.9"/>
<text x="599.1" y="305.4" class="tk" text-anchor="middle">3000</text>
<line x1="630.0" y1="299.1" x2="630.0" y2="301.5" stroke="#555" stroke-width="0.9"/>
<text x="630.0" y="305.4" class="tk" text-anchor="middle">4000</text>
<text x="485.6" y="227.8" class="yt" text-anchor="middle" transform="rotate(-90 485.6 227.8)" dy="2.3">Overall Survival Rate (%)</text>
<text x="567.4" y="314.4" class="xt" text-anchor="middle">Time (days)</text>
<polyline points="506.61,168.45 507.33,168.45 507.33,170.30 508.77,170.30 508.77,172.14 510.21,172.14 510.21,173.98 511.65,173.98 511.65,175.83 512.37,175.83 513.24,175.83 513.24,176.98 514.96,176.98 514.96,178.13 515.83,178.13 516.02,178.13 516.02,180.44 516.40,180.44 516.40,182.74 516.79,182.74 516.79,185.05 516.98,185.05 517.94,185.05 517.94,186.58 519.86,186.58 519.86,188.12 521.78,188.12 521.78,189.66 522.74,189.66 523.89,189.66 523.89,191.58 526.20,191.58 526.20,193.50 528.50,193.50 528.50,195.42 529.66,195.42 530.81,195.42 530.81,196.95 533.11,196.95 533.11,198.49 535.42,198.49 535.42,200.03 536.57,200.03 537.72,200.03 537.72,201.95 540.03,201.95 540.03,203.87 542.33,203.87 542.33,205.79 543.48,205.79 544.64,205.79 544.64,207.71 546.94,207.71 546.94,209.63 549.25,209.63 549.25,211.55 550.40,211.55 551.17,211.55 551.17,213.47 552.70,213.47 552.70,215.39 554.24,215.39 554.24,217.31 555.01,217.31 555.58,217.31 555.58,219.62 556.74,219.62 556.74,221.92 557.89,221.92 557.89,224.23 558.46,224.23 559.33,224.23 559.33,225.38 561.06,225.38 561.06,226.53 561.92,226.53 563.07,226.53 563.07,228.84 564.23,228.84 564.51,228.84 564.51,230.56 565.09,230.56 565.09,232.29 565.38,232.29 565.95,232.29 565.95,234.06 567.11,234.06 567.11,235.83 568.26,235.83 568.26,237.59 568.84,237.59 591.42,237.59 591.42,291.06" fill="none" stroke="#53a862" stroke-width="1.15" stroke-linejoin="miter"/>
<path d="M573.4 236.7v1.8M577.9 236.7v1.8M582.4 236.7v1.8M586.9 236.7v1.8" stroke="#53a862" stroke-width="0.8" opacity="0.9"/>
<polyline points="506.61,168.45 507.33,168.45 507.33,170.30 508.77,170.30 508.77,172.14 510.21,172.14 510.21,173.98 511.65,173.98 511.65,175.83 512.37,175.83 513.24,175.83 513.24,176.40 514.96,176.40 514.96,176.98 515.83,176.98 516.98,176.98 516.98,179.29 519.29,179.29 519.29,181.59 521.59,181.59 521.59,183.89 522.74,183.89 523.89,183.89 523.89,184.28 526.20,184.28 526.20,184.66 528.50,184.66 528.50,185.05 529.66,185.05 530.81,185.05 530.81,186.20 533.11,186.20 533.11,187.35 534.27,187.35 535.19,187.35 535.19,187.81 537.03,187.81 537.03,188.27 538.87,188.27 538.87,188.73 540.72,188.73 540.72,189.20 542.56,189.20 542.56,189.66 543.48,189.66 544.49,189.66 544.49,189.94 546.51,189.94 546.51,190.23 548.53,190.23 548.53,190.52 550.54,190.52 550.54,190.81 551.55,190.81 552.70,190.81 552.70,192.54 555.01,192.54 555.01,194.27 556.16,194.27 556.74,194.27 556.74,196.57 557.89,196.57 557.89,198.87 558.46,198.87 571.14,198.87 571.43,198.87 571.43,200.60 572.00,200.60 572.00,202.33 572.29,202.33 573.16,202.33 573.16,204.06 574.89,204.06 574.89,205.79 575.75,205.79 576.61,205.79 576.61,206.37 578.34,206.37 578.34,206.94 579.21,206.94 579.40,206.94 579.40,208.86 579.78,208.86 579.78,210.78 580.17,210.78 580.17,212.70 580.36,212.70 586.12,212.70 586.81,223.07 590.73,223.07 591.42,236.21 609.17,236.21" fill="none" stroke="#525d98" stroke-width="1.15" stroke-linejoin="miter"/>
<path d="M562.7 198.0v1.8M566.9 198.0v1.8M583.2 211.8v1.8M595.9 235.3v1.8M600.3 235.3v1.8M604.7 235.3v1.8" stroke="#525d98" stroke-width="0.8" opacity="0.9"/>
<text x="557.6" y="179.6" class="ti">Hsa-miR-21</text>
<text transform="translate(502.5 258.6) scale(1 1.0)" class="st">HR=2.092</text>
<text transform="translate(502.5 269.7) scale(1 1.0)" class="st">95% CI: 1.356-3.228</text>
<text transform="translate(502.5 280.7) scale(1 1.0)" class="st">Log Rank (Mantel-Cox):</text>
<text transform="translate(549.0 291.8) scale(1 1.0)" class="st"><tspan font-style="italic">P</tspan>=0.001</text>
<rect x="22.6" y="319.1" width="136.8" height="137.3" fill="none" stroke="#999999" stroke-width="1.0"/>
<line x1="20.6" y1="326.1" x2="22.6" y2="326.1" stroke="#666" stroke-width="0.8"/>
<text x="19.6" y="327.4" class="tk" text-anchor="end">1.0</text>
<line x1="20.6" y1="350.9" x2="22.6" y2="350.9" stroke="#666" stroke-width="0.8"/>
<text x="19.6" y="352.2" class="tk" text-anchor="end">0.8</text>
<line x1="20.6" y1="375.7" x2="22.6" y2="375.7" stroke="#666" stroke-width="0.8"/>
<text x="19.6" y="377.0" class="tk" text-anchor="end">0.6</text>
<line x1="20.6" y1="400.5" x2="22.6" y2="400.5" stroke="#666" stroke-width="0.8"/>
<text x="19.6" y="401.8" class="tk" text-anchor="end">0.4</text>
<line x1="20.6" y1="425.3" x2="22.6" y2="425.3" stroke="#666" stroke-width="0.8"/>
<text x="19.6" y="426.6" class="tk" text-anchor="end">0.2</text>
<line x1="20.6" y1="450.1" x2="22.6" y2="450.1" stroke="#666" stroke-width="0.8"/>
<text x="19.6" y="451.4" class="tk" text-anchor="end">0.0</text>
<line x1="29.6" y1="456.4" x2="29.6" y2="458.8" stroke="#555" stroke-width="0.9"/>
<text x="29.6" y="462.7" class="tk" text-anchor="middle">0</text>
<line x1="60.5" y1="456.4" x2="60.5" y2="458.8" stroke="#555" stroke-width="0.9"/>
<text x="60.5" y="462.7" class="tk" text-anchor="middle">1000</text>
<line x1="91.4" y1="456.4" x2="91.4" y2="458.8" stroke="#555" stroke-width="0.9"/>
<text x="91.4" y="462.7" class="tk" text-anchor="middle">2000</text>
<line x1="122.3" y1="456.4" x2="122.3" y2="458.8" stroke="#555" stroke-width="0.9"/>
<text x="122.3" y="462.7" class="tk" text-anchor="middle">3000</text>
<line x1="153.2" y1="456.4" x2="153.2" y2="458.8" stroke="#555" stroke-width="0.9"/>
<text x="153.2" y="462.7" class="tk" text-anchor="middle">4000</text>
<text x="8.8" y="385.6" class="yt" text-anchor="middle" transform="rotate(-90 8.8 385.6)" dy="2.3">Overall Survival Rate (%)</text>
<text x="90.6" y="471.7" class="xt" text-anchor="middle">Time (days)</text>
<polyline points="29.61,325.76 30.19,325.76 30.19,328.07 31.34,328.07 31.34,330.37 32.49,330.37 32.49,332.68 33.07,332.68 33.64,332.68 33.64,334.98 34.79,334.98 34.79,337.29 35.37,337.29 36.24,337.29 36.24,339.59 37.96,339.59 37.96,341.89 38.83,341.89 39.98,341.89 39.98,344.20 42.29,344.20 42.29,346.50 44.59,346.50 44.59,348.81 45.74,348.81 46.89,348.81 46.89,350.73 49.20,350.73 49.20,352.65 51.50,352.65 51.50,354.57 52.66,354.57 53.81,354.57 53.81,356.49 56.11,356.49 56.11,358.41 58.42,358.41 58.42,360.33 59.57,360.33 60.72,360.33 60.72,361.87 63.03,361.87 63.03,363.40 65.33,363.40 65.33,364.94 66.48,364.94 67.64,364.94 67.64,366.09 69.94,366.09 69.94,367.25 72.25,367.25 72.25,368.40 73.40,368.40 74.55,368.40 74.55,370.13 76.86,370.13 76.86,371.86 78.01,371.86 78.39,371.86 78.39,374.16 79.16,374.16 79.16,376.46 79.93,376.46 79.93,378.77 80.31,378.77 81.46,378.77 81.46,379.92 83.77,379.92 83.77,381.07 84.92,381.07 86.07,381.07 86.07,383.38 88.38,383.38 88.38,385.68 89.53,385.68 90.68,385.68 90.68,387.41 92.99,387.41 92.99,389.14 94.14,389.14 94.72,389.14 94.72,391.45 95.87,391.45 95.87,393.75 96.45,393.75 97.31,393.75 97.31,396.05 99.04,396.05 99.04,398.36 99.90,398.36 100.77,398.36 100.77,400.09 102.49,400.09 102.49,401.82 103.36,401.82 104.13,401.82 104.13,403.74 105.66,403.74 105.66,405.66 107.20,405.66 107.20,407.58 107.97,407.58 108.85,407.58 108.85,407.96 110.62,407.96 110.62,408.35 112.39,408.35 112.39,408.73 113.27,408.73 113.27,428.32 124.10,428.32" fill="none" stroke="#53a862" stroke-width="1.15" stroke-linejoin="miter"/>
<path d="M118.7 427.4v1.8" stroke="#53a862" stroke-width="0.8" opacity="0.9"/>
<polyline points="29.61,325.76 30.47,325.76 30.47,327.49 32.20,327.49 32.20,329.22 33.07,329.22 34.03,329.22 34.03,329.60 35.95,329.60 35.95,329.99 37.87,329.99 37.87,330.37 38.83,330.37 39.40,330.37 39.40,332.68 40.56,332.68 40.56,334.98 41.13,334.98 42.09,334.98 42.09,336.13 44.01,336.13 44.01,337.29 45.93,337.29 45.93,338.44 46.89,338.44 47.47,338.44 47.47,340.74 48.05,340.74 49.20,340.74 49.20,341.13 51.50,341.13 51.50,341.51 53.81,341.51 53.81,341.89 54.96,341.89 55.97,341.89 55.97,342.18 57.99,342.18 57.99,342.47 60.00,342.47 60.00,342.76 62.02,342.76 62.02,343.05 63.03,343.05 64.18,343.05 64.18,345.35 65.33,345.35 66.29,345.35 66.29,346.89 68.21,346.89 68.21,348.42 70.13,348.42 70.13,349.96 71.09,349.96 72.05,349.96 72.05,351.11 73.97,351.11 73.97,352.27 75.89,352.27 75.89,353.42 76.86,353.42 77.72,353.42 77.72,355.72 79.45,355.72 79.45,358.03 80.31,358.03 88.38,358.03 88.95,358.03 88.95,359.99 90.11,359.99 90.11,361.95 90.68,361.95 113.27,361.95 113.27,383.38 132.17,383.38" fill="none" stroke="#525d98" stroke-width="1.15" stroke-linejoin="miter"/>
<path d="M84.3 357.1v1.8M95.2 361.0v1.8M99.7 361.0v1.8M104.2 361.0v1.8M108.8 361.0v1.8M118.0 382.5v1.8M122.7 382.5v1.8M127.4 382.5v1.8" stroke="#525d98" stroke-width="0.8" opacity="0.9"/>
<text x="59.2" y="337.1" class="ti">Hsa-miR-365-2</text>
<text transform="translate(26.0 416.8) scale(1 1.0)" class="st">HR=2.178</text>
<text transform="translate(26.0 427.9) scale(1 1.0)" class="st">95% CI: 1.393-3.406</text>
<text transform="translate(26.0 438.9) scale(1 1.0)" class="st">Log Rank (Mantel-Cox):</text>
<text transform="translate(72.9 449.9) scale(1 1.0)" class="st"><tspan font-style="italic">P</tspan>&lt;0.001</text>
<rect x="183.2" y="320.7" width="136.2" height="136.5" fill="none" stroke="#999999" stroke-width="1.0"/>
<line x1="181.2" y1="327.7" x2="183.2" y2="327.7" stroke="#666" stroke-width="0.8"/>
<text x="180.2" y="329.0" class="tk" text-anchor="end">1.0</text>
<line x1="181.2" y1="352.5" x2="183.2" y2="352.5" stroke="#666" stroke-width="0.8"/>
<text x="180.2" y="353.8" class="tk" text-anchor="end">0.8</text>
<line x1="181.2" y1="377.3" x2="183.2" y2="377.3" stroke="#666" stroke-width="0.8"/>
<text x="180.2" y="378.6" class="tk" text-anchor="end">0.6</text>
<line x1="181.2" y1="402.1" x2="183.2" y2="402.1" stroke="#666" stroke-width="0.8"/>
<text x="180.2" y="403.4" class="tk" text-anchor="end">0.4</text>
<line x1="181.2" y1="426.9" x2="183.2" y2="426.9" stroke="#666" stroke-width="0.8"/>
<text x="180.2" y="428.2" class="tk" text-anchor="end">0.2</text>
<line x1="181.2" y1="451.7" x2="183.2" y2="451.7" stroke="#666" stroke-width="0.8"/>
<text x="180.2" y="453.0" class="tk" text-anchor="end">0.0</text>
<line x1="190.2" y1="457.2" x2="190.2" y2="459.6" stroke="#555" stroke-width="0.9"/>
<text x="190.2" y="463.5" class="tk" text-anchor="middle">0</text>
<line x1="221.1" y1="457.2" x2="221.1" y2="459.6" stroke="#555" stroke-width="0.9"/>
<text x="221.1" y="463.5" class="tk" text-anchor="middle">1000</text>
<line x1="252.0" y1="457.2" x2="252.0" y2="459.6" stroke="#555" stroke-width="0.9"/>
<text x="252.0" y="463.5" class="tk" text-anchor="middle">2000</text>
<line x1="282.9" y1="457.2" x2="282.9" y2="459.6" stroke="#555" stroke-width="0.9"/>
<text x="282.9" y="463.5" class="tk" text-anchor="middle">3000</text>
<line x1="313.8" y1="457.2" x2="313.8" y2="459.6" stroke="#555" stroke-width="0.9"/>
<text x="313.8" y="463.5" class="tk" text-anchor="middle">4000</text>
<text x="169.4" y="387.2" class="yt" text-anchor="middle" transform="rotate(-90 169.4 387.2)" dy="2.3">Overall Survival Rate (%)</text>
<text x="251.2" y="472.5" class="xt" text-anchor="middle">Time (days)</text>
<polyline points="190.07,327.76 190.57,327.76 190.57,330.07 191.57,330.07 191.57,332.37 192.57,332.37 192.57,334.68 193.07,334.68 193.64,334.68 193.64,336.98 194.79,336.98 194.79,339.29 195.95,339.29 195.95,341.59 196.52,341.59 197.10,341.59 197.10,343.51 198.25,343.51 198.25,345.43 199.40,345.43 199.40,347.35 199.98,347.35 200.94,347.35 200.94,348.89 202.86,348.89 202.86,350.42 204.78,350.42 204.78,351.96 205.74,351.96 206.89,351.96 206.89,353.88 209.20,353.88 209.20,355.80 211.50,355.80 211.50,357.72 212.66,357.72 213.66,357.72 213.66,359.16 215.68,359.16 215.68,360.60 217.70,360.60 217.70,362.04 219.71,362.04 219.71,363.48 220.72,363.48 221.68,363.48 221.68,365.02 223.60,365.02 223.60,366.56 225.52,366.56 225.52,368.09 226.48,368.09 227.64,368.09 227.64,369.63 229.94,369.63 229.94,371.17 232.25,371.17 232.25,372.70 233.40,372.70 234.55,372.70 234.55,374.43 236.86,374.43 236.86,376.16 238.01,376.16 238.39,376.16 238.39,378.46 239.16,378.46 239.16,380.77 239.93,380.77 239.93,383.07 240.31,383.07 241.46,383.07 241.46,384.23 243.77,384.23 243.77,385.38 244.92,385.38 245.79,385.38 245.79,387.11 247.51,387.11 247.51,388.84 248.38,388.84 249.24,388.84 249.24,389.99 250.97,389.99 250.97,391.14 251.84,391.14 252.41,391.14 252.41,392.87 253.56,392.87 253.56,394.60 254.14,394.60 254.43,394.60 254.43,396.50 255.00,396.50 255.00,398.40 255.58,398.40 255.58,400.30 256.16,400.30 256.16,402.20 256.45,402.20 274.42,402.20 274.42,450.14" fill="none" stroke="#53a862" stroke-width="1.15" stroke-linejoin="miter"/>
<path d="M260.9 401.3v1.8M265.4 401.3v1.8M269.9 401.3v1.8" stroke="#53a862" stroke-width="0.8" opacity="0.9"/>
<polyline points="190.07,327.76 191.11,327.76 191.11,330.07 193.18,330.07 193.18,332.37 194.22,332.37 195.37,332.37 195.37,334.10 197.68,334.10 197.68,335.83 198.83,335.83 199.69,335.83 199.69,336.98 201.42,336.98 201.42,338.13 202.29,338.13 203.25,338.13 203.25,339.29 205.17,339.29 205.17,340.44 207.09,340.44 207.09,341.59 208.05,341.59 208.97,341.59 208.97,342.28 210.81,342.28 210.81,342.97 212.66,342.97 212.66,343.66 214.50,343.66 214.50,344.36 216.34,344.36 216.34,345.05 217.27,345.05 218.19,345.05 218.19,345.51 220.03,345.51 220.03,345.97 221.87,345.97 221.87,346.43 223.72,346.43 223.72,346.89 225.56,346.89 225.56,347.35 226.48,347.35 227.64,347.35 227.64,348.50 229.94,348.50 229.94,349.66 232.25,349.66 232.25,350.81 233.40,350.81 234.26,350.81 234.26,351.96 235.99,351.96 235.99,353.11 236.86,353.11 237.43,353.11 237.43,355.03 238.58,355.03 238.58,356.95 239.74,356.95 239.74,358.87 240.31,358.87 262.21,358.87 262.40,358.87 262.40,361.18 262.78,361.18 262.78,363.48 263.17,363.48 263.17,365.79 263.36,365.79 269.12,365.79 269.81,376.62 273.73,377.31 274.42,390.45 292.17,390.45" fill="none" stroke="#525d98" stroke-width="1.15" stroke-linejoin="miter"/>
<path d="M245.8 358.0v1.8M251.3 358.0v1.8M256.7 358.0v1.8M266.2 364.9v1.8M278.9 389.5v1.8M283.3 389.5v1.8M287.7 389.5v1.8" stroke="#525d98" stroke-width="0.8" opacity="0.9"/>
<text x="237.6" y="337.1" class="ti">Hsa-miR-671</text>
<text transform="translate(185.0 416.8) scale(1 1.0)" class="st">HR=2.321</text>
<text transform="translate(185.0 427.9) scale(1 1.0)" class="st">95% CI: 1.492-3.612</text>
<text transform="translate(185.0 438.9) scale(1 1.0)" class="st">Log Rank (Mantel-Cox):</text>
<text transform="translate(232.0 449.9) scale(1 1.0)" class="st"><tspan font-style="italic">P</tspan>&lt;0.001</text>
<rect x="341.3" y="319.3" width="137.1" height="137.1" fill="none" stroke="#999999" stroke-width="1.0"/>
<line x1="339.3" y1="326.3" x2="341.3" y2="326.3" stroke="#666" stroke-width="0.8"/>
<text x="338.3" y="327.6" class="tk" text-anchor="end">1.0</text>
<line x1="339.3" y1="351.1" x2="341.3" y2="351.1" stroke="#666" stroke-width="0.8"/>
<text x="338.3" y="352.4" class="tk" text-anchor="end">0.8</text>
<line x1="339.3" y1="375.9" x2="341.3" y2="375.9" stroke="#666" stroke-width="0.8"/>
<text x="338.3" y="377.2" class="tk" text-anchor="end">0.6</text>
<line x1="339.3" y1="400.7" x2="341.3" y2="400.7" stroke="#666" stroke-width="0.8"/>
<text x="338.3" y="402.0" class="tk" text-anchor="end">0.4</text>
<line x1="339.3" y1="425.5" x2="341.3" y2="425.5" stroke="#666" stroke-width="0.8"/>
<text x="338.3" y="426.8" class="tk" text-anchor="end">0.2</text>
<line x1="339.3" y1="450.3" x2="341.3" y2="450.3" stroke="#666" stroke-width="0.8"/>
<text x="338.3" y="451.6" class="tk" text-anchor="end">0.0</text>
<line x1="348.3" y1="456.4" x2="348.3" y2="458.8" stroke="#555" stroke-width="0.9"/>
<text x="348.3" y="462.7" class="tk" text-anchor="middle">0</text>
<line x1="379.2" y1="456.4" x2="379.2" y2="458.8" stroke="#555" stroke-width="0.9"/>
<text x="379.2" y="462.7" class="tk" text-anchor="middle">1000</text>
<line x1="410.1" y1="456.4" x2="410.1" y2="458.8" stroke="#555" stroke-width="0.9"/>
<text x="410.1" y="462.7" class="tk" text-anchor="middle">2000</text>
<line x1="441.0" y1="456.4" x2="441.0" y2="458.8" stroke="#555" stroke-width="0.9"/>
<text x="441.0" y="462.7" class="tk" text-anchor="middle">3000</text>
<line x1="471.9" y1="456.4" x2="471.9" y2="458.8" stroke="#555" stroke-width="0.9"/>
<text x="471.9" y="462.7" class="tk" text-anchor="middle">4000</text>
<text x="327.5" y="385.8" class="yt" text-anchor="middle" transform="rotate(-90 327.5 385.8)" dy="2.3">Overall Survival Rate (%)</text>
<text x="409.3" y="471.7" class="xt" text-anchor="middle">Time (days)</text>
<polyline points="348.76,325.76 349.34,325.76 349.34,328.07 350.49,328.07 350.49,330.37 351.64,330.37 351.64,332.68 352.22,332.68 352.79,332.68 352.79,334.60 353.95,334.60 353.95,336.52 355.10,336.52 355.10,338.44 355.68,338.44 356.25,338.44 356.25,340.74 357.40,340.74 357.40,343.05 357.98,343.05 359.13,343.05 359.13,345.35 361.44,345.35 361.44,347.66 363.74,347.66 363.74,349.96 364.89,349.96 366.05,349.96 366.05,351.88 368.35,351.88 368.35,353.80 370.66,353.80 370.66,355.72 371.81,355.72 372.96,355.72 372.96,357.64 375.27,357.64 375.27,359.56 377.57,359.56 377.57,361.48 378.72,361.48 379.87,361.48 379.87,363.02 382.18,363.02 382.18,364.56 384.48,364.56 384.48,366.09 385.64,366.09 386.60,366.09 386.60,367.25 388.52,367.25 388.52,368.40 390.44,368.40 390.44,369.55 391.40,369.55 392.36,369.55 392.36,370.70 394.28,370.70 394.28,371.86 396.20,371.86 396.20,373.01 397.16,373.01 397.45,373.01 397.45,375.02 398.02,375.02 398.02,377.04 398.60,377.04 398.60,379.06 399.18,379.06 399.18,381.07 399.46,381.07 400.62,381.07 400.62,382.23 402.92,382.23 402.92,383.38 404.07,383.38 405.23,383.38 405.23,385.11 407.53,385.11 407.53,386.84 408.68,386.84 409.55,386.84 409.55,387.99 411.28,387.99 411.28,389.14 412.14,389.14 412.72,389.14 412.72,391.06 413.87,391.06 413.87,392.98 415.02,392.98 415.02,394.90 415.60,394.90 416.46,394.90 416.46,397.21 418.19,397.21 418.19,399.51 419.05,399.51 419.92,399.51 419.92,401.24 421.65,401.24 421.65,402.97 422.51,402.97 423.47,402.97 423.47,404.89 425.39,404.89 425.39,406.81 427.31,406.81 427.31,408.73 428.27,408.73 429.43,408.73 429.43,409.31 431.73,409.31 431.73,409.88 432.88,409.88 433.34,428.32 443.25,428.32" fill="none" stroke="#53a862" stroke-width="1.15" stroke-linejoin="miter"/>
<path d="M438.3 427.4v1.8" stroke="#53a862" stroke-width="0.8" opacity="0.9"/>
<polyline points="348.76,325.76 349.91,325.76 349.91,328.07 352.22,328.07 352.22,330.37 353.37,330.37 354.52,330.37 354.52,330.95 356.83,330.95 356.83,331.52 357.98,331.52 358.56,331.52 358.56,333.83 359.71,333.83 359.71,336.13 360.29,336.13 361.44,336.13 361.44,337.86 363.74,337.86 363.74,339.59 364.89,339.59 366.05,339.59 366.05,341.89 367.20,341.89 368.21,341.89 368.21,342.18 370.22,342.18 370.22,342.47 372.24,342.47 372.24,342.76 374.26,342.76 374.26,343.05 375.27,343.05 376.42,343.05 376.42,343.43 378.72,343.43 378.72,343.82 381.03,343.82 381.03,344.20 382.18,344.20 383.04,344.20 383.04,345.93 384.77,345.93 384.77,347.66 385.64,347.66 386.60,347.66 386.60,348.81 388.52,348.81 388.52,349.96 390.44,349.96 390.44,351.11 391.40,351.11 392.55,351.11 392.55,352.84 394.86,352.84 394.86,354.57 396.01,354.57 396.58,354.57 396.58,356.87 397.74,356.87 397.74,359.18 398.31,359.18 408.68,359.18 408.97,359.18 408.97,360.91 409.55,360.91 409.55,362.64 409.84,362.64 432.42,362.64 432.88,384.07 450.17,384.07" fill="none" stroke="#525d98" stroke-width="1.15" stroke-linejoin="miter"/>
<path d="M403.5 358.3v1.8M414.4 361.7v1.8M418.9 361.7v1.8M423.4 361.7v1.8M427.9 361.7v1.8M437.2 383.2v1.8M441.5 383.2v1.8M445.8 383.2v1.8" stroke="#525d98" stroke-width="0.8" opacity="0.9"/>
<text x="385.5" y="337.1" class="ti">Hsa-miR-365-2</text>
<text transform="translate(344.7 416.8) scale(1 1.0)" class="st">HR=2.462</text>
<text transform="translate(344.7 427.9) scale(1 1.0)" class="st">95% CI: 1.559-3.886</text>
<text transform="translate(344.7 438.9) scale(1 1.0)" class="st">Log Rank (Mantel-Cox):</text>
<text transform="translate(391.4 449.9) scale(1 1.0)" class="st"><tspan font-style="italic">P</tspan>&lt;0.001</text>

<polyline points="481.4,411.5 493.8,411.5 493.8,404.4 505.3,404.4 505.3,411" fill="none" stroke="#17a85a" stroke-width="1.9"/>
<text x="510" y="412.7" class="lg" fill="#23923f">High Expression (n=158)</text>
<polyline points="481.4,438 493.8,438 493.8,431.2 505.3,431.2 505.3,438" fill="none" stroke="#27386e" stroke-width="1.9"/>
<text x="510" y="439.2" class="lg" fill="#2f4274">Low Expression (n=157)</text>

</svg>
</body></html>
